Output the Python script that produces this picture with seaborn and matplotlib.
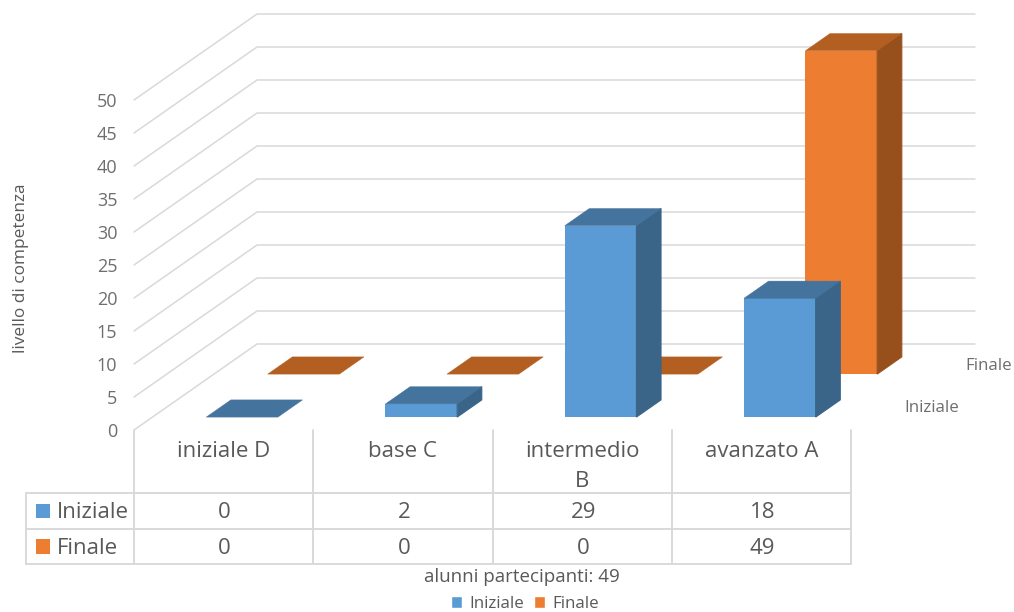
import numpy as np
import pandas as pd
import matplotlib
matplotlib.use('Agg')
import matplotlib.pyplot as plt
import matplotlib.transforms as mtransforms
from matplotlib.lines import Line2D
from matplotlib.patches import Patch, Polygon, Rectangle
import seaborn as sns

categorie = ['iniziale D', 'base C', 'intermedio\nB', 'avanzato A']
iniziale = [0, 2, 29, 18]
finale = [0, 0, 0, 49]
serie = ['Iniziale', 'Finale']
tick_valori = [0, 5, 10, 15, 20, 25, 30, 35, 40, 45, 50]

W, H = 1014, 612
LEFT, RIGHT, BOTTOM, TOP = 134, 851, 430, 100
GRID_END = 975
GRIGIO = '#D9D9D9'

colori = {'Iniziale': ('#5B9BD5', '#44739E', '#3A6588'),
          'Finale': ('#ED7D31', '#B35F21', '#97501B')}

sns.set_style('white')
plt.rcParams['font.family'] = ['Open Sans', 'DejaVu Sans']

fig = plt.figure(figsize=(W / 100, H / 100), dpi=100)
ax = fig.add_axes([LEFT / W, 1 - BOTTOM / H, (RIGHT - LEFT) / W, (BOTTOM - TOP) / H])

# oblique projection: one unit of depth moves a point this far in data units
unit_x = (RIGHT - LEFT) / len(categorie)
unit_y = (BOTTOM - TOP) / 50
depth_x = 123 / unit_x
depth_y = 86 / unit_y
x_end = -0.5 + (GRID_END - LEFT) / unit_x
bar_width = 0.4
bar_depth = 0.2


def draw_series(values, name, depth):
    face, top, side = colori[name]
    dx, dy = depth * depth_x, depth * depth_y
    sns.barplot(x=categorie, y=values, order=categorie, color=face, saturation=1,
                width=bar_width, linewidth=0, ax=ax)
    bars = ax.containers[-1]
    shift = mtransforms.Affine2D().translate(dx, dy) + ax.transData
    for bar in bars:
        bar.set_transform(shift)
        bar.set_clip_on(False)
    ddx, ddy = bar_depth * depth_x, bar_depth * depth_y
    for i, v in enumerate(values):
        x0 = i - bar_width / 2 + dx
        x1 = i + bar_width / 2 + dx
        y0 = dy
        y1 = v + dy
        if v > 0:
            # thick edge closes the seam against the front face
            ax.add_patch(Polygon([(x1, y0), (x1 + ddx, y0 + ddy), (x1 + ddx, y1 + ddy), (x1, y1)],
                                 facecolor=side, edgecolor=side, lw=0.8, clip_on=False))
        ax.add_patch(Polygon([(x0, y1), (x1, y1), (x1 + ddx, y1 + ddy), (x0 + ddx, y1 + ddy)],
                             facecolor=top, edgecolor=top, lw=0.3, clip_on=False))


# wall grid
for v in tick_valori:
    ax.plot([-0.5, -0.5 + depth_x, x_end], [v, v + depth_y, v + depth_y], color=GRIGIO,
            lw=1.1, clip_on=False, zorder=0.5)

draw_series(finale, 'Finale', 0.5 + 0.15)
draw_series(iniziale, 'Iniziale', 0.15)

ax.set_xlim(-0.5, len(categorie) - 0.5)
ax.set_ylim(0, 50)
ax.set_yticks(tick_valori)
ax.tick_params(axis='y', length=0, pad=12, labelsize=13, labelcolor='#6E6E6E')
ax.tick_params(axis='x', length=0, pad=8, labelsize=16, labelcolor='#595959')
for lab in ax.get_xticklabels():
    lab.set_linespacing(1.55)
ax.set_ylabel('livello di competenza', fontsize=12.4, color='#595959', labelpad=0)
ax.yaxis.set_label_coords((29 - LEFT) / (RIGHT - LEFT), (BOTTOM - 268) / (BOTTOM - TOP))
sns.despine(ax=ax, left=True, bottom=True)
ax.patch.set_alpha(0)


def fx(px):
    return px / W


def fy(py):
    return 1 - py / H


def fig_line(x0, y0, x1, y1):
    fig.add_artist(Line2D([fx(x0), fx(x1)], [fy(y0), fy(y1)], color=GRIGIO, lw=1.4))


# data table under the axis
col_edges = [LEFT + unit_x * i for i in range(len(categorie) + 1)]
row_edges = [493, 529, 564]
for x in col_edges:
    fig_line(x, BOTTOM, x, row_edges[-1])
fig_line(26, row_edges[0], 26, row_edges[-1])
for y in row_edges:
    fig_line(26, y, RIGHT, y)

righe = [iniziale, finale]
for r, name in enumerate(serie):
    yc = (row_edges[r] + row_edges[r + 1]) / 2
    fig.add_artist(Rectangle((fx(35.5), fy(yc + 7)), 14.5 / W, 14.5 / H, transform=fig.transFigure,
                             facecolor=colori[name][0], edgecolor='none'))
    fig.text(fx(57), fy(yc + 1.5), name, fontsize=16, color='#595959', ha='left', va='center')
    for i, v in enumerate(righe[r]):
        fig.text(fx((col_edges[i] + col_edges[i + 1]) / 2 + 1), fy(yc + 1.5), str(v), fontsize=16,
                 color='#595959', ha='center', va='center')

# depth axis labels
fig.text(fx(989), fy(366), 'Finale', fontsize=12.2, color='#6E6E6E', ha='center', va='center')
fig.text(fx(931.5), fy(408), 'Iniziale', fontsize=12.2, color='#6E6E6E', ha='center', va='center')

fig.text(fx(522), fy(577), 'alunni partecipanti: 49', fontsize=13.5, color='#595959', ha='center', va='center')

handles = [Patch(facecolor=colori[name][0], label=name) for name in serie]
fig.legend(handles=handles, ncol=2, frameon=False, loc='center', bbox_to_anchor=(fx(525), fy(604)),
           fontsize=12.2, labelcolor='#595959', handlelength=0.65, handleheight=0.65,
           handletextpad=0.4, columnspacing=0.63, borderpad=0)

fig.savefig('out.png', dpi=100)
